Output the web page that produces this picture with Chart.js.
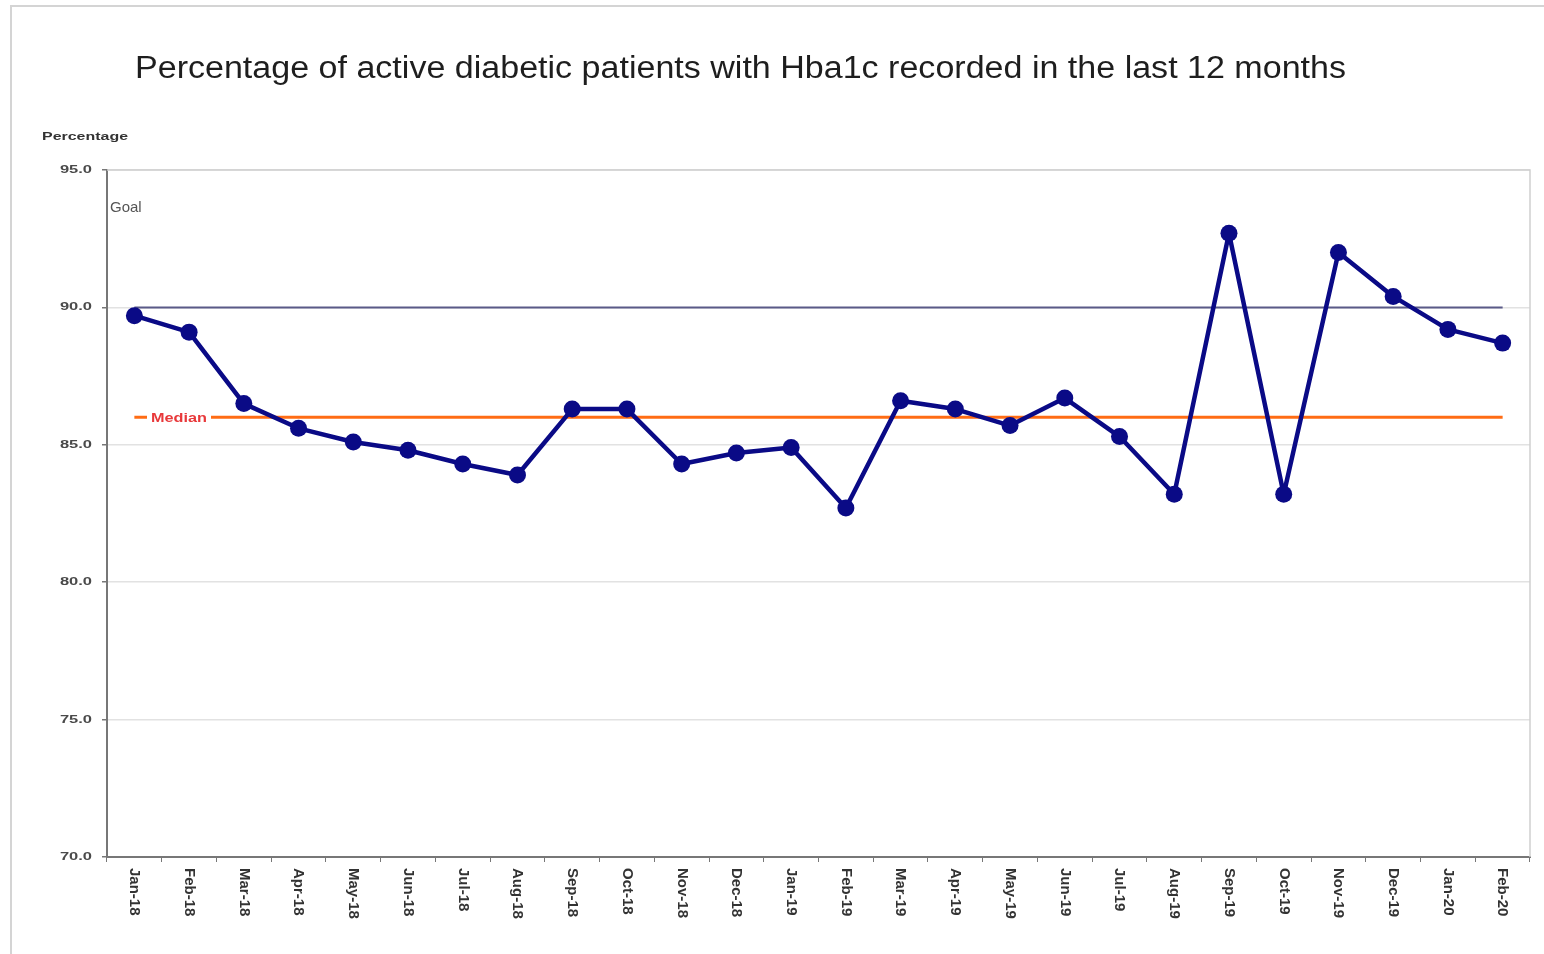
<!DOCTYPE html>
<html>
<head>
<meta charset="utf-8">
<script src="https://cdn.jsdelivr.net/npm/chart.js@4.4.1/dist/chart.umd.min.js"></script>
<style>
  html, body { margin: 0; padding: 0; background: #ffffff; }
  #wrap { width: 1544px; height: 954px; }
</style>
</head>
<body>
<div id="wrap"><canvas id="c" width="1544" height="954"></canvas></div>
<script>
// Monthly audit periods
const categories = [
  'Jan-18','Feb-18','Mar-18','Apr-18','May-18','Jun-18','Jul-18','Aug-18',
  'Sep-18','Oct-18','Nov-18','Dec-18','Jan-19','Feb-19','Mar-19','Apr-19',
  'May-19','Jun-19','Jul-19','Aug-19','Sep-19','Oct-19','Nov-19','Dec-19',
  'Jan-20','Feb-20'
];

// % of active diabetic patients with an HbA1c recorded in the last 12 months
const hba1cRecorded = [
  89.7, 89.1, 86.5, 85.6, 85.1, 84.8, 84.3, 83.9,
  86.3, 86.3, 84.3, 84.7, 84.9, 82.7, 86.6, 86.3,
  85.7, 86.7, 85.3, 83.2, 92.7, 83.2, 92.0, 90.4,
  89.2, 88.7
];

// Reference levels
const goalValue = 90;
const medianValue = 86;

// Value axis
const yMin = 70;
const yMax = 95;
const yStep = 5;

const goalLine = categories.map(() => goalValue);
const medianLine = categories.map(() => medianValue);

const FONT = '"Liberation Sans", Arial, sans-serif';

// Draws the title, axis captions, reference-line labels and frame
const annotations = {
  id: 'annotations',
  afterDraw(chart) {
    const ctx = chart.ctx;
    const area = chart.chartArea;
    const xs = chart.scales.x;
    const ys = chart.scales.y;
    ctx.save();

    // outer frame (left and top edges)
    ctx.strokeStyle = '#d4d4d4';
    ctx.lineWidth = 2;
    ctx.beginPath();
    ctx.moveTo(11, 954);
    ctx.lineTo(11, 6);
    ctx.lineTo(1544, 6);
    ctx.stroke();

    // light top and right edges of the plot area
    ctx.strokeStyle = '#cfcfcf';
    ctx.lineWidth = 1.5;
    ctx.beginPath();
    ctx.moveTo(area.left, area.top);
    ctx.lineTo(area.right, area.top);
    ctx.lineTo(area.right, area.bottom);
    ctx.stroke();

    // title
    const title = 'Percentage of active diabetic patients with Hba1c recorded in the last 12 months';
    ctx.fillStyle = '#1e1e1e';
    ctx.font = '31px ' + FONT;
    ctx.textBaseline = 'middle';
    ctx.textAlign = 'left';
    const tw = ctx.measureText(title).width;
    ctx.save();
    ctx.translate(135, 69);
    ctx.scale(1211 / tw, 1);
    ctx.fillText(title, 0, 0);
    ctx.restore();

    // axis caption
    ctx.fillStyle = '#333333';
    ctx.font = 'bold 11px ' + FONT;
    ctx.save();
    ctx.translate(42, 137);
    ctx.scale(1.45, 1);
    ctx.textAlign = 'left';
    ctx.fillText('Percentage', 0, 0);
    ctx.restore();

    // y tick labels
    ctx.fillStyle = '#4a4a4a';
    ctx.font = 'bold 11px ' + FONT;
    ys.ticks.forEach(t => {
      const y = ys.getPixelForValue(t.value);
      ctx.save();
      ctx.translate(92, y);
      ctx.scale(1.5, 1);
      ctx.textAlign = 'right';
      ctx.fillText(t.value.toFixed(1), 0, 0);
      ctx.restore();
    });

    // x tick labels, reading top to bottom
    ctx.fillStyle = '#333333';
    ctx.font = 'bold 15px ' + FONT;
    categories.forEach((label, i) => {
      const x = xs.getPixelForTick(i);
      ctx.save();
      ctx.translate(x, area.bottom + 11);
      ctx.rotate(Math.PI / 2);
      ctx.textAlign = 'left';
      ctx.textBaseline = 'middle';
      ctx.fillText(label, 0, 0);
      ctx.restore();
    });

    // goal label
    ctx.fillStyle = '#555555';
    ctx.font = '15px ' + FONT;
    ctx.textAlign = 'left';
    ctx.fillText('Goal', 110, 208);

    // median label over its line
    const my = ys.getPixelForValue(medianValue);
    ctx.fillStyle = '#ffffff';
    ctx.fillRect(147, my - 8, 64, 16);
    ctx.fillStyle = '#e8383a';
    ctx.font = 'bold 13px ' + FONT;
    const mw = ctx.measureText('Median').width;
    ctx.save();
    ctx.translate(151, my + 1);
    ctx.scale(56 / mw, 1);
    ctx.fillText('Median', 0, 0);
    ctx.restore();

    ctx.restore();
  }
};

new Chart(document.getElementById('c'), {
  type: 'line',
  data: {
    labels: categories,
    datasets: [
      {
        label: 'Hba1c recorded',
        data: hba1cRecorded,
        borderColor: '#0a0a86',
        backgroundColor: '#0a0a86',
        borderWidth: 4.5,
        borderJoinStyle: 'round',
        pointRadius: 8.5,
        pointHoverRadius: 8.5,
        pointBorderWidth: 0,
        tension: 0,
        order: 0
      },
      {
        label: 'Goal',
        data: goalLine,
        borderColor: '#5a5a88',
        borderWidth: 2,
        pointRadius: 0,
        order: 2
      },
      {
        label: 'Median',
        data: medianLine,
        borderColor: '#ff6c14',
        borderWidth: 3,
        pointRadius: 0,
        order: 1
      }
    ]
  },
  options: {
    responsive: false,
    animation: false,
    devicePixelRatio: 1,
    layout: { padding: { top: 170, right: 14, left: 0, bottom: 0 } },
    plugins: {
      legend: { display: false },
      title: { display: false },
      tooltip: { enabled: false }
    },
    scales: {
      x: {
        offset: true,
        grid: {
          offset: true,
          drawOnChartArea: false,
          drawTicks: true,
          tickLength: 5,
          tickColor: '#777777'
        },
        border: { display: true, color: '#777777', width: 2 },
        ticks: { display: false },
        afterFit(scale) { scale.height = 97; }
      },
      y: {
        min: yMin,
        max: yMax,
        ticks: { stepSize: yStep, color: 'rgba(0,0,0,0)', font: { size: 11 } },
        grid: {
          color: '#e2e2e2',
          lineWidth: 1.5,
          tickLength: 5,
          tickColor: '#777777'
        },
        border: { display: true, color: '#777777', width: 2 },
        afterFit(scale) { scale.width = 107; }
      }
    }
  },
  plugins: [annotations]
});
</script>
</body>
</html>
